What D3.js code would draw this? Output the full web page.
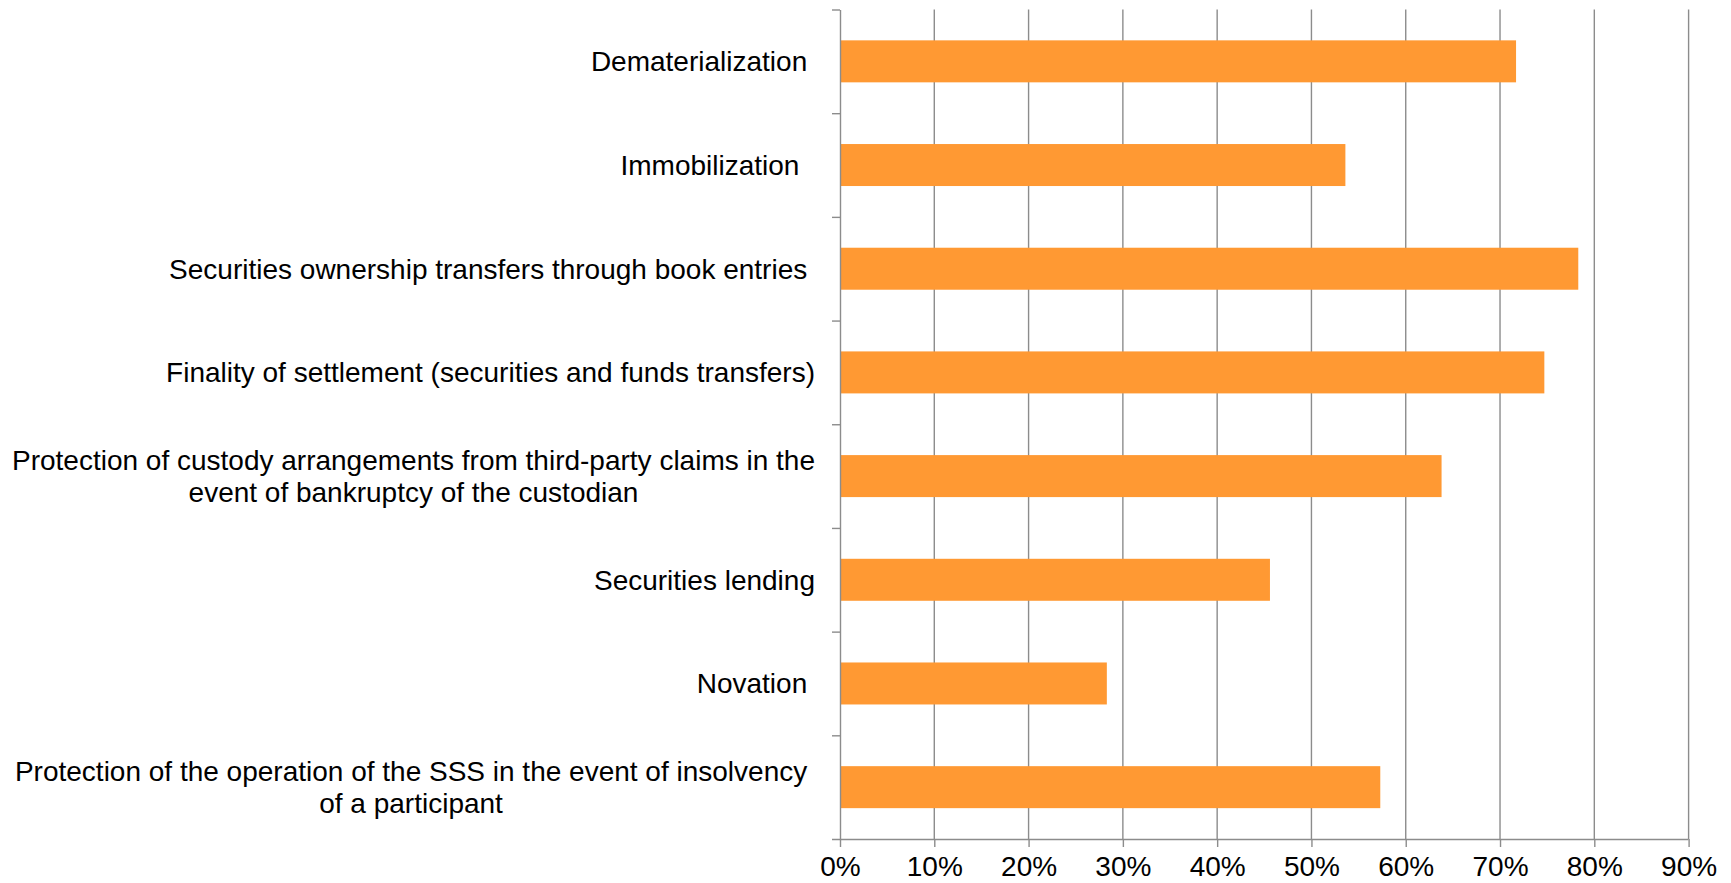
<!DOCTYPE html>
<html>
<head>
<meta charset="utf-8">
<script src="https://cdn.jsdelivr.net/npm/d3@7"></script>
<style>
  html, body { margin: 0; padding: 0; background: #fff; }
  svg { display: block; }
  text { font-family: "Liberation Sans", Arial, sans-serif; fill: #000; }
</style>
</head>
<body>
<svg id="chart" width="1731" height="883"></svg>
<script>
// Category labels (line breaks marked with \n; trailing spaces are kept as typed)
const categories = [
  "Dematerialization ",
  "Immobilization  ",
  "Securities ownership transfers through book entries ",
  "Finality of settlement (securities and funds transfers)",
  "Protection of custody arrangements from third-party claims in the\nevent of bankruptcy of the custodian",
  "Securities lending",
  "Novation ",
  "Protection of the operation of the SSS in the event of insolvency \nof a participant "
];
// Share of respondents for each feature
const values = [0.717, 0.536, 0.783, 0.747, 0.638, 0.456, 0.283, 0.573];
// Horizontal axis ticks
const xTicks = [0, 0.1, 0.2, 0.3, 0.4, 0.5, 0.6, 0.7, 0.8, 0.9];

const svg = d3.select("#chart");
const plot = { left: 840, right: 1688.6, top: 9.5, bottom: 839 };
const fontSize = 28;
const gridColor = "#8c8c8c";

const x = d3.scaleLinear().domain([0, 0.9]).range([plot.left, plot.right]);
const y = d3.scaleBand().domain(d3.range(categories.length))
  .range([plot.top, plot.bottom]).paddingInner(0.595).paddingOuter(0.2975);
const yEdges = d3.scaleLinear().domain([0, categories.length]).range([plot.top, plot.bottom]);

// Vertical gridlines
svg.append("g").selectAll("line").data(xTicks.slice(1)).join("line")
  .attr("x1", d => x(d)).attr("x2", d => x(d))
  .attr("y1", plot.top).attr("y2", plot.bottom)
  .attr("stroke", gridColor).attr("stroke-width", 1.4);

// Bars
svg.append("g").selectAll("rect").data(values).join("rect")
  .attr("x", x(0))
  .attr("y", (d, i) => y(i))
  .attr("width", d => x(d) - x(0))
  .attr("height", y.bandwidth())
  .attr("fill", "#FF9933");

// Bottom axis
const xAxis = svg.append("g")
  .attr("transform", `translate(0,${plot.bottom})`)
  .call(d3.axisBottom(x).tickValues(xTicks).tickFormat(d3.format(".0%"))
    .tickSize(8).tickPadding(9).tickSizeOuter(0));
xAxis.select(".domain").attr("stroke", gridColor).attr("stroke-width", 1.4)
  .attr("d", `M${plot.left - 8},0.5H${plot.right}`);
xAxis.selectAll(".tick line").attr("stroke", gridColor).attr("stroke-width", 1.4);
xAxis.selectAll(".tick text").style("font-size", fontSize + "px")
  .style("font-family", '"Liberation Sans", Arial, sans-serif').attr("fill", "#000");

// Left axis with ticks on category boundaries
const yAxis = svg.append("g")
  .attr("transform", `translate(${plot.left},0)`)
  .call(d3.axisLeft(yEdges).tickValues(d3.range(categories.length)).tickFormat("")
    .tickSize(8).tickSizeOuter(0));
yAxis.select(".domain").attr("stroke", gridColor).attr("stroke-width", 1.4);
yAxis.selectAll(".tick line").attr("stroke", gridColor).attr("stroke-width", 1.4);

// Category labels: lines centred on each other, block right-aligned to the axis
const labelRight = plot.left - 25;
const lineHeight = 32;
const labels = svg.append("g").style("font-size", fontSize + "px");
categories.forEach((c, i) => {
  const lines = c.split("\n");
  const g = labels.append("g");
  const texts = lines.map(l => g.append("text")
    .attr("xml:space", "preserve").style("white-space", "pre").text(l));
  const widths = texts.map(t => t.node().getComputedTextLength());
  const blockW = d3.max(widths);
  const cx = labelRight - blockW / 2;
  const cy = y(i) + y.bandwidth() / 2;
  texts.forEach((t, k) => {
    t.attr("x", cx).attr("text-anchor", "middle")
     .attr("y", cy + (k - (lines.length - 1) / 2) * lineHeight)
     .attr("dy", "0.35em");
  });
});
</script>
</body>
</html>
